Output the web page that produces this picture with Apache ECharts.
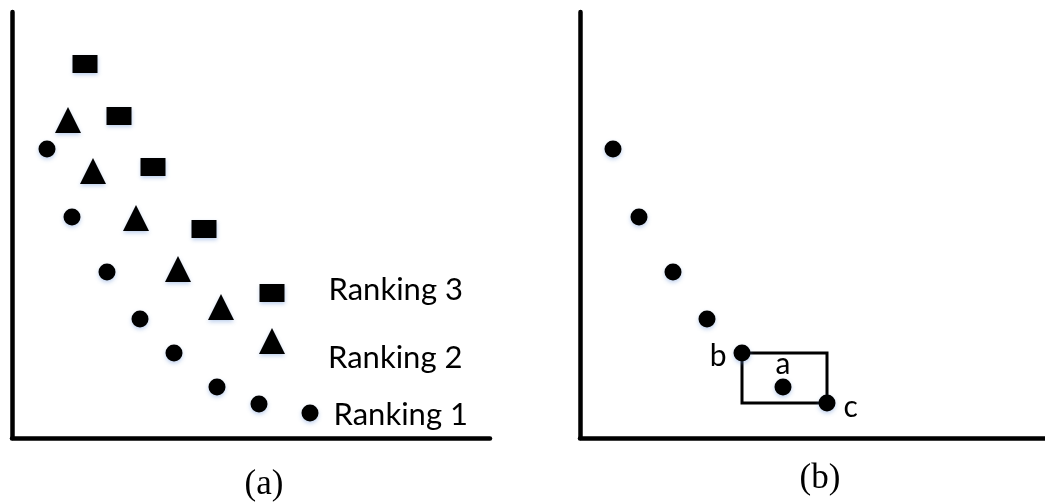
<!DOCTYPE html>
<html>
<head>
<meta charset="utf-8">
<script src="https://cdn.jsdelivr.net/npm/echarts@6/dist/echarts.min.js"></script>
<style>
  html, body { margin: 0; padding: 0; background: #fff; }
  #chart { width: 1045px; height: 502px; }
</style>
</head>
<body>
<div id="chart"></div>
<script>
// panel (a): three rankings, x / y in axis units
const rank3X = [73, 107, 141, 192, 260]
const rank3Y = [374, 322, 271, 209, 145]
const rank2X = [56, 81, 124, 166, 209, 260]
const rank2Y = [318, 267, 220, 169, 131, 97]
const rank1X = [35, 60, 95, 128, 162, 205, 247, 298]
const rank1Y = [289, 221, 166, 119, 85, 51, 34, 25]
const rankNames = ['Ranking 3', 'Ranking 2', 'Ranking 1']

// panel (b): one front, b / a / c labelled
const frontX = [33, 59, 93, 127, 162, 203, 247]
const frontY = [289, 221, 166, 119, 85, 51, 35]
const frontLabels = ['', '', '', '', 'b', 'a', 'c']

const panelTitles = ['(a)', '(b)']

const sansFont = 'Lato'
const marker = {
  color: '#000',
  opacity: 1,
  shadowColor: 'rgba(110,150,215,0.45)',
  shadowBlur: 4,
  shadowOffsetY: 2
}

function pairs(xs, ys) {
  return xs.map((x, i) => [x, ys[i]])
}

// put the ranking name on the last point
function withEndLabel(xs, ys, name, dist, offY) {
  const d = pairs(xs, ys).map(p => ({ value: p }))
  d[d.length - 1].label = {
    show: true,
    position: 'right',
    distance: dist,
    offset: [0, offY],
    formatter: name,
    color: '#000',
    fontFamily: sansFont,
    fontSize: 31
  }
  return d
}

const labelPos = { b: 'left', a: 'top', c: 'right' }
const labelDist = { b: 7, a: 1, c: 8 }
const labelOff = { b: [0, 3], a: [0, 2], c: [0, 4] }
const frontData = pairs(frontX, frontY).map((p, i) => {
  const t = frontLabels[i]
  if (!t) return { value: p }
  return {
    value: p,
    label: {
      show: true,
      formatter: t,
      position: labelPos[t],
      distance: labelDist[t],
      offset: labelOff[t],
      color: '#000',
      fontFamily: sansFont,
      fontSize: 30
    }
  }
})
const boxFrom = [frontX[4], frontY[4]]
const boxTo = [frontX[6], frontY[6]]

const axisLine = { show: true, lineStyle: { color: '#000', width: 4.5 } }
function valueAxis(idx, max) {
  return {
    type: 'value',
    gridIndex: idx,
    min: 0,
    max: max,
    axisLine: axisLine,
    axisTick: { show: false },
    axisLabel: { show: false },
    splitLine: { show: false }
  }
}

const titleStyle = { fontFamily: 'Liberation Serif', fontWeight: 'normal', fontSize: 35, color: '#000' }

const chart = echarts.init(document.getElementById('chart'))
chart.setOption({
  backgroundColor: '#fff',
  animation: false,
  grid: [
    { left: 12, top: 12, width: 478, height: 426 },
    { left: 580, top: 12, width: 465, height: 426 }
  ],
  xAxis: [valueAxis(0, 478), valueAxis(1, 465)],
  yAxis: [valueAxis(0, 426), valueAxis(1, 426)],
  title: [
    { text: panelTitles[0], left: 259, top: 462, textAlign: 'center', textStyle: titleStyle },
    { text: panelTitles[1], left: 815, top: 456, textAlign: 'center', textStyle: titleStyle }
  ],
  series: [
    {
      type: 'scatter',
      xAxisIndex: 0, yAxisIndex: 0,
      symbol: 'rect',
      symbolSize: [25, 18],
      itemStyle: marker,
      data: withEndLabel(rank3X, rank3Y, rankNames[0], 44, -3)
    },
    {
      type: 'scatter',
      xAxisIndex: 0, yAxisIndex: 0,
      symbol: 'triangle',
      symbolSize: [26, 26],
      itemStyle: marker,
      data: withEndLabel(rank2X, rank2Y, rankNames[1], 43, 17)
    },
    {
      type: 'scatter',
      xAxisIndex: 0, yAxisIndex: 0,
      symbol: 'circle',
      symbolSize: 17,
      itemStyle: marker,
      data: withEndLabel(rank1X, rank1Y, rankNames[2], 15, 2)
    },
    {
      type: 'scatter',
      xAxisIndex: 1, yAxisIndex: 1,
      symbol: 'circle',
      symbolSize: 17,
      z: 3,
      itemStyle: marker,
      data: frontData,
      markArea: {
        silent: true,
        itemStyle: { color: 'rgba(0,0,0,0)', borderColor: '#000', borderWidth: 3 },
        data: [[{ coord: boxFrom }, { coord: boxTo }]]
      }
    }
  ]
})
</script>
</body>
</html>
